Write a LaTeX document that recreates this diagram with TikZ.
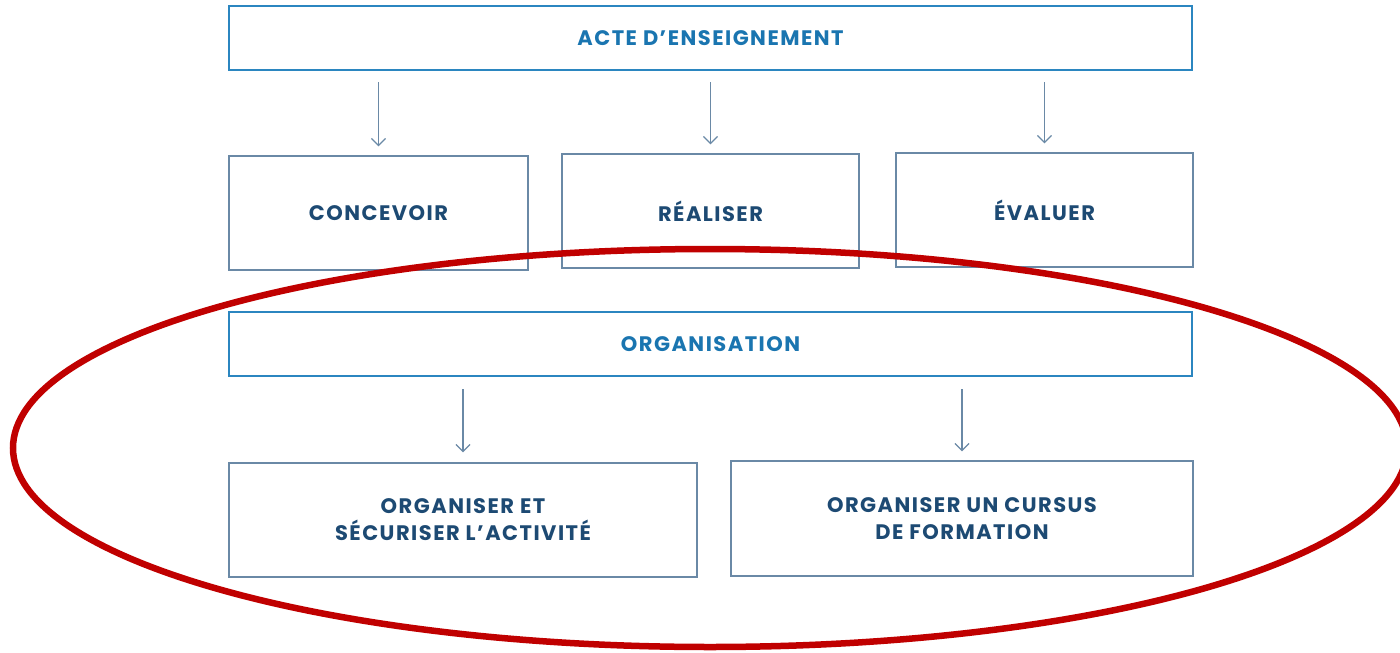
\documentclass[tikz,border=0pt]{standalone}
\usepackage{fontspec}
\setmainfont{Poppins}[LetterSpace=7]
\usetikzlibrary{arrows.meta}
\definecolor{lightblue}{HTML}{2B86C0}
\definecolor{lighttext}{HTML}{1A75B0}
\definecolor{darkline}{HTML}{6A89A6}
\definecolor{darktext}{HTML}{1D4A73}
\definecolor{ringred}{HTML}{C00000}
\begin{document}
\begin{tikzpicture}
  [x=1pt,y=-1pt,
   every node/.style={rectangle,inner sep=0pt,align=center,
     font=\fontsize{21}{27}\selectfont\bfseries},
   headbox/.style={draw=lightblue,line width=2pt,text=lighttext,
     minimum width=963pt,minimum height=64pt},
   taskbox/.style={draw=darkline,line width=1.4pt,text=darktext,
     minimum height=114pt},
   arr/.style={draw=darkline,line width=1.2pt,
     -{Straight Barb[length=7pt,width=14pt]}}]
  \useasboundingbox (0,0) rectangle (1400,653);

  \node[headbox] (acte) at (710.5,38) {ACTE D’ENSEIGNEMENT};
  \node[taskbox,minimum width=299pt] (concevoir) at (378.5,213) {CONCEVOIR};
  \node[taskbox,minimum width=297pt] (realiser) at (710.5,211) {RÉALISER};
  \node[taskbox,minimum width=297pt] (evaluer) at (1044.5,210) {ÉVALUER};

  \node[headbox] (orga) at (710.5,344) {ORGANISATION};
  \node[taskbox,minimum width=468pt] (securiser) at (463,520) {ORGANISER ET\\SÉCURISER L’ACTIVITÉ};
  \node[taskbox,minimum width=462pt,minimum height=115pt] (cursus) at (962,518.5) {ORGANISER UN CURSUS\\DE FORMATION};

  \draw[arr,shorten <=11pt,shorten >=9pt] (acte.south -| concevoir.north) -- (concevoir.north);
  \draw[arr,shorten <=11pt,shorten >=9pt] (acte.south -| realiser.north) -- (realiser.north);
  \draw[arr,shorten <=11pt,shorten >=9pt] (acte.south -| evaluer.north) -- (evaluer.north);
  \draw[arr,shorten <=12pt,shorten >=10pt] (orga.south -| securiser.north) -- (securiser.north);
  \draw[arr,shorten <=12pt,shorten >=9pt] (orga.south -| cursus.north) -- (cursus.north);

  \draw[ringred,line width=6.5pt] (710,448) ellipse [x radius=697pt,y radius=199pt];
\end{tikzpicture}
\end{document}
